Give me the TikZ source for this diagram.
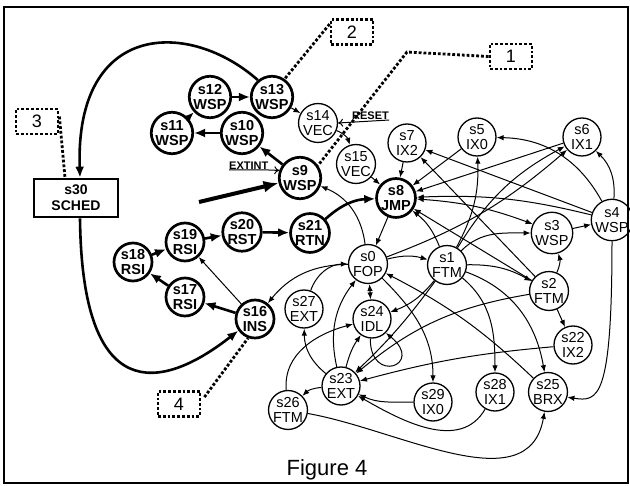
\documentclass[tikz,border=0pt]{standalone}
\usepackage{fontspec}
\setmainfont{Liberation Sans}
\usetikzlibrary{arrows.meta}
\begin{document}
\begin{tikzpicture}[x=1pt,y=-1pt,
  st/.style={circle,draw,line width=1.3pt,minimum size=38pt,inner sep=0pt,align=center,font=\fontsize{14.5}{15}\selectfont},
  stb/.style={st,line width=2.7pt,font=\fontsize{14.5}{15}\selectfont\bfseries},
  tk/.style={line width=2.6pt,-{Latex[length=11pt,width=9pt]}},
  tn/.style={line width=1pt,-{Latex[length=7pt,width=5.5pt]}},
  tnb/.style={line width=1pt,{Latex[length=7pt,width=5.5pt]}-{Latex[length=7pt,width=5.5pt]}},
  opn/.style={line width=1pt,-{To[length=5pt,width=8pt]}},
  dotl/.style={line width=2.8pt,dash pattern=on 2.8pt off 2pt},
  dotbox/.style={draw,dotl,minimum width=42pt,minimum height=25pt,inner sep=0pt,font=\fontsize{18}{18}\selectfont},
  lab/.style={font=\fontsize{11}{11}\selectfont\bfseries,inner sep=0pt}
]
\useasboundingbox (0,0) rectangle (630,486);
\draw[line width=1.6pt] (4,7) rectangle (628,483);

% nodes
\node[st]  (s0)  at (368,264) {s0\\FOP};
\node[st]  (s1)  at (447,265) {s1\\FTM};
\node[st]  (s2)  at (549,291) {s2\\FTM};
\node[st]  (s3)  at (552,233) {s3\\WSP};
\node[st]  (s4)  at (612,220) {s4\\WSP};
\node[st]  (s5)  at (477,137) {s5\\IX0};
\node[st]  (s6)  at (582,137) {s6\\IX1};
\node[st]  (s7)  at (407,143) {s7\\IX2};
\node[stb] (s8)  at (396,198) {s8\\JMP};
\node[stb] (s9)  at (300,178) {s9\\WSP};
\node[stb] (s10) at (242,133) {s10\\WSP};
\node[stb] (s11) at (172,133) {s11\\WSP};
\node[stb] (s12) at (210,97)  {s12\\WSP};
\node[stb] (s13) at (272,97)  {s13\\WSP};
\node[st]  (s14) at (318,123) {s14\\VEC};
\node[st]  (s15) at (356,164) {s15\\VEC};
\node[stb] (s16) at (255,319) {s16\\INS};
\node[stb] (s17) at (185,297) {s17\\RSI};
\node[stb] (s18) at (133,262) {s18\\RSI};
\node[stb] (s19) at (185,242) {s19\\RSI};
\node[stb] (s20) at (242,232) {s20\\RST};
\node[stb] (s21) at (310,233) {s21\\RTN};
\node[st]  (s22) at (573,345) {s22\\IX2};
\node[st]  (s23) at (341,386) {s23\\EXT};
\node[st]  (s24) at (372,319) {s24\\IDL};
\node[st]  (s25) at (548,392) {s25\\BRX};
\node[st]  (s26) at (288,410) {s26\\FTM};
\node[st]  (s27) at (304,309) {s27\\EXT};
\node[st]  (s28) at (495,392) {s28\\IX1};
\node[st]  (s29) at (433,402) {s29\\IX0};
\node[draw,line width=2.7pt,minimum width=84pt,minimum height=38pt,inner sep=0pt,align=center,
      font=\fontsize{14}{16}\selectfont\bfseries] (s30) at (76,198) {s30\\SCHED};

% dotted boxes
\node[dotbox] (box1) at (511,56.5) {1};
\node[dotbox] (box2) at (352,32) {2};
\node[dotbox] (box3) at (37,121.5) {3};
\node[dotbox] (box4) at (179,404) {4};
\coordinate (bend1) at (407,52);
\draw[dotl] (box1.west) -- (bend1) -- (s9.35);
\draw[dotl] ([yshift=-6pt]box2.north west) -- (s13.55);
\draw[dotl] ([yshift=-9pt]box3.north east) -- ([xshift=-11pt]s30.north);
\draw[dotl] ([yshift=-7pt,xshift=3pt]box4.north east) -- (s16.-110);

% labels
\node[lab,anchor=south west] (reset) at (352,120) {RESET};
\node[lab,anchor=south west] (extint) at (229,170) {EXTINT};
\draw[opn] (reset.south east) -- (s14.east);
\draw[opn] (extint.south west) -- (extint.south east) -- (s9.160);

% thick connectors
\draw[tk] (s12) -- (s13);
\draw[tk] (s11) -- (s12);
\draw[tk] (s10) -- (s11);
\draw[tk] (s9) -- (s10);
\draw[tk] (s16) -- (s17);
\draw[tk] (s17) -- (s18);
\draw[tk] (s18) -- (s19);
\draw[tk] (s19) -- (s20);
\draw[tk] (s20) -- (s21);
\draw[tk] (s21) to[bend left=20] (s8);
\draw[tk] (s13.130) .. controls (190,20) and (75,20) .. ([xshift=4pt]s30.north);
\draw[tk] ([xshift=4pt]s30.south) .. controls (82,405) and (160,392) .. (s16.215);
\coordinate (bigstart) at (199,202);
\draw[line width=4pt,-{Latex[length=15pt,width=12pt]}] (bigstart) -- (s9);

% thin connectors
\draw[tn] (s13) -- (s14);
\draw[tn] (s14) to[bend left=25] (s15);
\draw[tn] (s15) -- (s8);
\draw[tn] (s7) -- (s8);
\draw[tn] (s5) -- (s8);
\draw[tn] (s6) -- (s8);
\draw[tn] (s4) to[bend right=8] (s8);
\draw[tn] (s4) -- (s7);
\draw[tn] (s4) to[bend right=30] (s5);
\draw[tn] (s4) to[bend right=25] (s6);
\draw[tn] (s3) -- (s4);
\draw[tn] (s2) to[bend right=20] (s3);
\draw[tn] (s2) -- (s22);
\draw[tn] (s2) -- (s7);
\draw[tn] (s2) -- (s8);
\draw[tn] (s2) to[bend right=15] (s23);
\draw[tn] (s22) to[bend right=5] (s23);
\draw[tn] (s4.south) .. controls (612,400) and (598,402) .. (s25.-15);
\draw[tn] (s25) to[bend right=8] (s0);
\draw[tn] (s1) to[bend left=15] (s6);
\draw[tn] (s1) to[bend right=15] (s5);
\draw[tn] (s1) to[bend right=15] (s8);
\draw[tn] (s1) to[out=45,in=180] (s3);
\draw[tn] (s1) to[bend left=15] (s2);
\draw[tn] (s1) to[out=-40,in=90] (s28);
\draw[tn] (s1) to[out=-20,in=100] (s25);
\draw[tn] (s1) to[bend left=15] (s24);
\draw[tn] (s1) to[bend left=5] (s23);
\draw[tn] (s0) to[bend left=15] (s1);
\draw[tn] (s8) -- (s0);
\draw[tnb] (s0) -- (s24);
\draw[tn] (s0) to[out=-45,in=90] (s29);
\draw[tn] (s0) to[bend right=25] (s16);
\draw[tn] (s0) to[bend right=30] (s9);
\draw[tn] (s0) to[bend right=10] (s6);
\draw[tnb] (s8) to[bend left=8] (s3.155);
\draw[tn] (s27) to[bend left=35] (s0);
\draw[tn] (s23) to[bend left=25] (s0);
\draw[tn] (s23) to[bend left=10] (s24);
\draw[tn] (s23) to[bend left=25] (s27);
\draw[tn] (s23) to[bend right=20] (s26);
\draw[tn] (s26) to[out=95,in=195] (s24);
\draw[tn] (s26) to[out=-10,in=-100] (s25);
\draw[tn] (s28) to[out=-120,in=-30] (s23);
\draw[tn] (s29) to[out=180,in=-25] (s23);
\draw[tn] (s24.-95) .. controls (370,385) and (425,365) .. (s24.-45);
\draw[tn] (s16) -- (s19);

\node[font=\fontsize{22}{22}\selectfont,anchor=base] (fig) at (327,476) {Figure 4};
\end{tikzpicture}
\end{document}
